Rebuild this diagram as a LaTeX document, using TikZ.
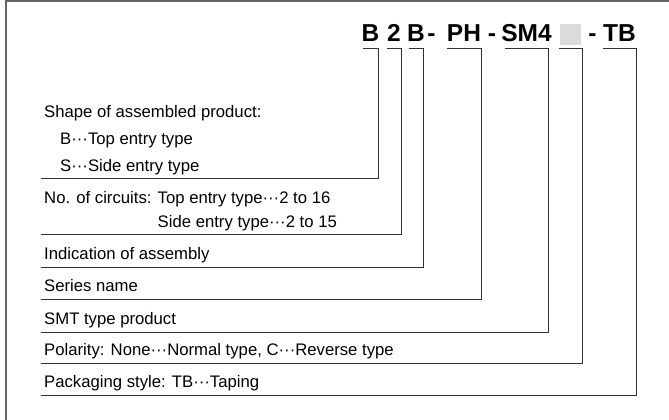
\documentclass[tikz,border=0pt]{standalone}
\usepackage{fontspec}
\setmainfont{Liberation Sans}
\usetikzlibrary{calc}
\definecolor{boxgray}{gray}{0.86}

\begin{document}
\begin{tikzpicture}[x=1pt,y=-1pt,
    part/.style={font=\bfseries\fontsize{24.5}{29}\selectfont, inner xsep=0pt, inner ysep=7pt, outer sep=0pt, text depth=0pt, anchor=base, minimum width=#1},
    lbl/.style={font=\fontsize{16.7}{20}\selectfont, inner sep=0pt, anchor=base west},
    bracket/.style={black!80, line width=1pt},
    frame/.style={black!60, line width=1.4pt}]
    \useasboundingbox (0,0) rectangle (669,420);
    \draw[frame] (6,420) -- (6,1) -- (669,1);
    % part number
    \node (c1) [part=15, inner xsep=-1.3pt] at (370.5,42) {B};
    \node (c2) [part=14] at (394,42) {2};
    \node (c3) [part=14, inner xsep=-1.8pt] at (416,42) {B};
    \node (d1) [part=7] at (431.5,42) {-};
    \node (c4) [part=34] at (464,42) {PH};
    \node (d2) [part=7] at (492,42) {-};
    \node (c5) [part=44, inner xsep=-3.2pt] at (526.5,42) {SM4};
    \node (c6) [fill=boxgray, minimum width=21, minimum height=21, inner sep=0pt, outer xsep=1pt, outer ysep=4pt] at (570.5,34.5) {};
    \node (d3) [part=7] at (592.5,42) {-};
    \node (c7) [part=33] at (619.5,42) {TB};
    % descriptions
    \node (shape) [lbl] at (44,117) {Shape of assembled product:};
    \node (shapeb) [lbl] at (60,144) {B···Top entry type};
    \node (shapes) [lbl] at (60,171) {S···Side entry type};
    \node (circ) [lbl] at (44,203) {No. of circuits: Top entry type···2 to 16};
    \node (circs) [lbl] at ($(circ.base west)+(0,24)$) {\phantom{No. of circuits: }Side entry type···2 to 15};
    \node (assy) [lbl] at (44,259) {Indication of assembly};
    \node (series) [lbl] at (44,291) {Series name};
    \node (smt) [lbl] at (44,324) {SMT type product};
    \node (pol) [lbl] at (44,355) {Polarity: None···Normal type, C···Reverse type};
    \node (pack) [lbl] at (44,387) {Packaging style: TB···Taping};
    \foreach \n/\y in {1/178,2/234,3/267,4/299,5/332,6/363,7/395}
        \coordinate (r\n) at (41,\y);
    \foreach \n in {1,...,7}
        \draw[bracket] (r\n) -| (c\n.south east) -- (c\n.south west);
\end{tikzpicture}
\end{document}
